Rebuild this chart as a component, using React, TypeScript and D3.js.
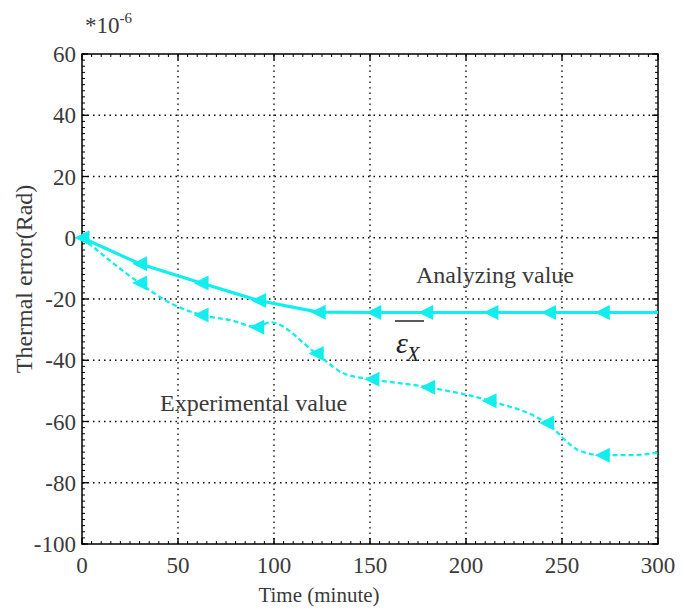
import React from "react";
import * as d3 from "d3";

const xTicks = [0, 50, 100, 150, 200, 250, 300];
const yTicks = [60, 40, 20, 0, -20, -40, -60, -80, -100];

// Analyzing value (solid)
const anaX = [0, 30, 62, 92, 123, 152, 179, 213, 243, 271, 300];
const anaY = [0, -8.5, -14.8, -20.5, -24.3, -24.4, -24.4, -24.4, -24.4, -24.4, -24.4];
const anaMarker = [true, true, true, true, true, true, true, true, true, true, false];

// Experimental value (dashed)
const expX = [0, 30, 45, 62, 78, 91, 98, 122, 137, 151, 180, 212, 242, 259, 271, 285, 300];
const expY = [0, -14.8, -21, -25.2, -27, -29.2, -27.6, -37.8, -44.5, -46.2, -48.8, -53.2, -60.5, -69.5, -71, -71, -70.2];
const expMarker = [false, true, false, true, false, true, false, true, false, true, true, true, true, false, true, false, false];

const W = 684, H = 611;
const L = 82, R = 658, T = 54, B = 544;
const CYAN = "#12eeee";
const FONT = "'Liberation Serif', 'Times New Roman', serif";
const TXT = "#3a3a3a";

export default function App() {
  const x = d3.scaleLinear().domain([0, 300]).range([L, R]);
  const y = d3.scaleLinear().domain([-100, 60]).range([B, T]);

  const anaData = anaX.map((v, i) => [v, anaY[i]] as [number, number]);
  const expData = expX.map((v, i) => [v, expY[i]] as [number, number]);

  const lineLin = d3.line<[number, number]>().x(d => x(d[0])).y(d => y(d[1]));
  const lineCurve = d3.line<[number, number]>().x(d => x(d[0])).y(d => y(d[1])).curve(d3.curveMonotoneX);

  const tri = (cx: number, cy: number) => {
    const s = 7.5;
    return `M${cx - s},${cy} L${cx + s},${cy - s} L${cx + s},${cy + s} Z`;
  };

  const minorX = d3.range(0, 301, 5);
  const minorY = d3.range(-100, 61, 2);

  return (
    <svg width={W} height={H} style={{ position: "absolute", left: 0, top: 0, background: "#fff" }}>
      <rect x={0} y={0} width={W} height={H} fill="#fff" />
      {/* grid */}
      {xTicks.slice(1, -1).map(t => (
        <line key={"gx" + t} x1={x(t)} x2={x(t)} y1={T} y2={B} stroke="#000" strokeWidth={1.3} strokeDasharray="1.5,4" />
      ))}
      {yTicks.slice(1, -1).map(t => (
        <line key={"gy" + t} x1={L} x2={R} y1={y(t)} y2={y(t)} stroke="#000" strokeWidth={1.3} strokeDasharray="1.5,4" />
      ))}
      {/* minor ticks */}
      {minorX.map(t => (
        <g key={"mx" + t}>
          <line x1={x(t)} x2={x(t)} y1={B} y2={B - 3} stroke="#000" strokeWidth={1} />
          <line x1={x(t)} x2={x(t)} y1={T} y2={T + 3} stroke="#000" strokeWidth={1} />
        </g>
      ))}
      {minorY.map(t => (
        <g key={"my" + t}>
          <line x1={L} x2={L + 3} y1={y(t)} y2={y(t)} stroke="#000" strokeWidth={1} />
          <line x1={R} x2={R - 3} y1={y(t)} y2={y(t)} stroke="#000" strokeWidth={1} />
        </g>
      ))}
      {/* major ticks */}
      {xTicks.map(t => (
        <g key={"Mx" + t}>
          <line x1={x(t)} x2={x(t)} y1={B} y2={B - 6} stroke="#000" strokeWidth={1.3} />
          <line x1={x(t)} x2={x(t)} y1={T} y2={T + 6} stroke="#000" strokeWidth={1.3} />
        </g>
      ))}
      {yTicks.map(t => (
        <g key={"My" + t}>
          <line x1={L} x2={L + 6} y1={y(t)} y2={y(t)} stroke="#000" strokeWidth={1.3} />
          <line x1={R} x2={R - 6} y1={y(t)} y2={y(t)} stroke="#000" strokeWidth={1.3} />
        </g>
      ))}
      {/* frame */}
      <rect x={L} y={T} width={R - L} height={B - T} fill="none" stroke="#000" strokeWidth={1.5} />

      {/* series */}
      <path d={lineCurve(expData) || ""} fill="none" stroke={CYAN} strokeWidth={2.3} strokeDasharray="5,3" />
      {expData.map((d, i) => expMarker[i] ? <path key={"em" + i} d={tri(x(d[0]), y(d[1]))} fill={CYAN} /> : null)}
      <path d={lineLin(anaData) || ""} fill="none" stroke={CYAN} strokeWidth={3.2} />
      {anaData.map((d, i) => anaMarker[i] ? <path key={"am" + i} d={tri(x(d[0]), y(d[1]))} fill={CYAN} /> : null)}

      {/* tick labels */}
      {xTicks.map(t => (
        <text key={"tx" + t} x={x(t)} y={573} textAnchor="middle" fontFamily={FONT} fontSize={23} fill={TXT}>{t}</text>
      ))}
      {yTicks.map(t => (
        <text key={"ty" + t} x={L - 6} y={y(t) + 8} textAnchor="end" fontFamily={FONT} fontSize={23} fill={TXT}>{t}</text>
      ))}
      <text x={319} y={602} textAnchor="middle" fontFamily={FONT} fontSize={21} fill={TXT}>Time (minute)</text>
      <text transform={`translate(32,279) rotate(-90)`} textAnchor="middle" fontFamily={FONT} fontSize={24} fill={TXT}>Thermal error(Rad)</text>
      <text x={85} y={33} fontFamily={FONT} fontSize={23} fill={TXT}>*10<tspan dy={-10} fontSize={15}>-6</tspan></text>

      {/* annotations */}
      <text x={416} y={283} fontFamily={FONT} fontSize={24} fill={TXT}>Analyzing value</text>
      <text x={160} y={411} fontFamily={FONT} fontSize={24} fill={TXT}>Experimental value</text>
      <line x1={395} x2={424} y1={321} y2={321} stroke="#000" strokeWidth={1.3} />
      <text x={396} y={353} fontFamily={FONT} fontSize={30} fontStyle="italic" fill="#222">ε<tspan fontSize={21} dy={8} dx={-1}>X</tspan></text>
    </svg>
  );
}
